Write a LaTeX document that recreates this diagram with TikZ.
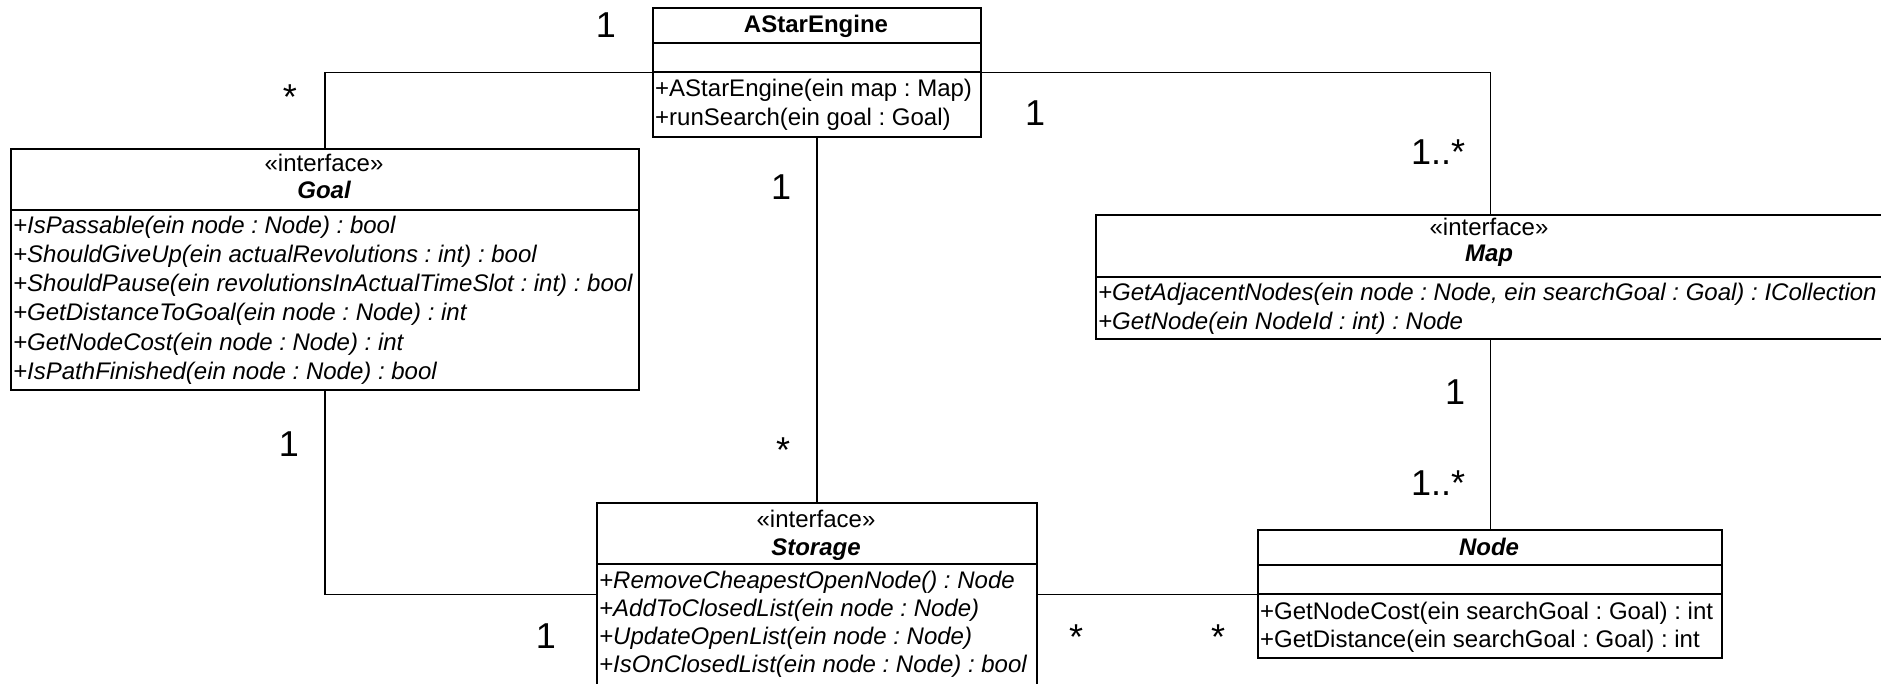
\documentclass[tikz,border=0pt]{standalone}
\usepackage{fontspec}
\setmainfont{Liberation Sans}
\newcommand\mfont{\fontsize{24}{29}\selectfont\frenchspacing}
\newcommand\lfont{\fontsize{36}{43}\selectfont}
\tikzset{
  cls/.style={draw, line width=2pt, inner sep=0pt, anchor=north west, fill=white},
  sepline/.style={line width=2pt},
  assoc/.style={line width=1.5pt},
  meth/.style={anchor=base west, inner sep=0pt, font=\mfont},
  imeth/.style={anchor=base west, inner sep=0pt, font=\mfont\itshape},
  stereo/.style={anchor=base, inner sep=0pt, font=\mfont},
  cname/.style={anchor=base, inner sep=0pt, font=\mfont\bfseries},
  iname/.style={anchor=base, inner sep=0pt, font=\mfont\bfseries\itshape},
  mult/.style={anchor=base, inner sep=0pt, font=\lfont},
}
\begin{document}
\frenchspacing
\begin{tikzpicture}[x=1pt,y=-1pt]
\useasboundingbox (0,0) rectangle (1881,684);
\begin{scope}
\clip (0,0) rectangle (1881,684);

% class boxes
\node[cls, minimum width=328pt, minimum height=129pt] (engine) at (652,7) {};
\node[cls, minimum width=628pt, minimum height=241pt] (goal) at (10,148) {};
\node[cls, minimum width=789pt, minimum height=124pt] (map) at (1095,214) {};
\node[cls, minimum width=440pt, minimum height=183pt] (storage) at (596,502) {};
\node[cls, minimum width=464pt, minimum height=128pt] (node) at (1257,529) {};

% connectors
\draw[assoc] (engine.west) -| (goal.north);
\draw[assoc] (engine.east) -| (map.north);
\draw[assoc] (engine.south) -- (storage.north);
\draw[assoc] (goal.south) |- (storage.west);
\draw[assoc] (map.south) -- (map.south |- node.north);
\draw[assoc] (storage.east) -- (storage.east -| node.west);

% compartments
\draw[sepline] (engine.west |- 0,43) -- (engine.east |- 0,43);
\draw[sepline] (engine.west |- 0,72) -- (engine.east |- 0,72);
\draw[sepline] (goal.west |- 0,210) -- (goal.east |- 0,210);
\draw[sepline] (map.west |- 0,277) -- (map.east |- 0,277);
\draw[sepline] (storage.west |- 0,564) -- (storage.east |- 0,564);
\draw[sepline] (node.west |- 0,565) -- (node.east |- 0,565);
\draw[sepline] (node.west |- 0,594) -- (node.east |- 0,594);

% AStarEngine
\node[cname] (engineT) at (816,33) {AStarEngine};
\node[meth] (engineM1) at (655,97) {+AStarEngine(ein map : Map)};
\node[meth] (engineM2) at (655,126) {+runSearch(ein goal : Goal)};

% Goal
\node[stereo] (goalS) at (324,172) {«interface»};
\node[iname] (goalT) at (324,199) {Goal};
\node[imeth] (goalM1) at (13,234) {+IsPassable(ein node : Node) : bool};
\node[imeth] (goalM2) at (13,263) {+ShouldGiveUp(ein actualRevolutions : int) : bool};
\node[imeth] (goalM3) at (13,292) {+ShouldPause(ein revolutionsInActualTimeSlot : int) : bool};
\node[imeth] (goalM4) at (13,321) {+GetDistanceToGoal(ein node : Node) : int};
\node[imeth] (goalM5) at (13,350) {+GetNodeCost(ein node : Node) : int};
\node[imeth] (goalM6) at (13,379) {+IsPathFinished(ein node : Node) : bool};

% Map
\node[stereo] (mapS) at (1489,236) {«interface»};
\node[iname] (mapT) at (1489,262) {Map};
\node[imeth] (mapM1) at (1098,301) {+GetAdjacentNodes(ein node : Node, ein searchGoal : Goal) : ICollection};
\node[imeth] (mapM2) at (1098,330) {+GetNode(ein NodeId : int) : Node};

% Storage
\node[stereo] (storageS) at (816,527) {«interface»};
\node[iname] (storageT) at (816,555) {Storage};
\node[imeth] (storageM1) at (599,588) {+RemoveCheapestOpenNode() : Node};
\node[imeth] (storageM2) at (599,616) {+AddToClosedList(ein node : Node)};
\node[imeth] (storageM3) at (599,644) {+UpdateOpenList(ein node : Node)};
\node[imeth] (storageM4) at (599,672) {+IsOnClosedList(ein node : Node) : bool};

% Node
\node[iname] (nodeT) at (1489,555) {Node};
\node[meth] (nodeM1) at (1260,619) {+GetNodeCost(ein searchGoal : Goal) : int};
\node[meth] (nodeM2) at (1260,647) {+GetDistance(ein searchGoal : Goal) : int};

% multiplicities
\node[mult] (m1) at (606,38) {1};
\node[mult] (m2) at (290,110) {*};
\node[mult] (m3) at (1035,126) {1};
\node[mult] (m4) at (1438,165) {1..*};
\node[mult] (m5) at (781,200) {1};
\node[mult] (m6) at (783,462) {*};
\node[mult] (m7) at (289,456) {1};
\node[mult] (m8) at (546,648) {1};
\node[mult] (m9) at (1455,404) {1};
\node[mult] (m10) at (1438,495) {1..*};
\node[mult] (m11) at (1076,649) {*};
\node[mult] (m12) at (1218,649) {*};
\end{scope}
\end{tikzpicture}
\end{document}
